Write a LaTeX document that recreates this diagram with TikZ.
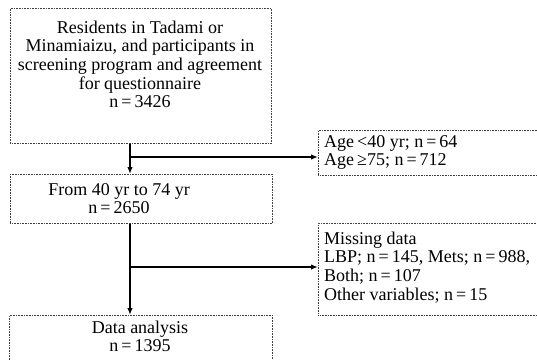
\documentclass[tikz,border=0pt]{standalone}
\usepackage{fontspec}
\setmainfont{Liberation Serif}
\usetikzlibrary{arrows.meta}
\begin{document}
\begin{tikzpicture}[x=1pt,y=-1pt,
  box/.style={draw=black!75, densely dotted, line width=0.6pt, inner sep=0pt, anchor=north west},
  txt/.style={anchor=base, inner sep=0pt, font=\fontsize{18}{18.7}\selectfont},
  ltxt/.style={txt, anchor=base west},
  arr/.style={line width=1.4pt, -{Latex[length=7pt,width=5.5pt]}}]
\useasboundingbox (0,0) rectangle (537,359);
\clip (0,0) rectangle (537,359);
% boxes
\node[box, minimum width=261pt, minimum height=135pt] (b1) at (10,8) {};
\node[box, minimum width=262pt, minimum height=49pt] (b2) at (10,174) {};
\node[box, minimum width=263pt, minimum height=70pt] (b3) at (9,315) {};
\node[box, minimum width=230pt, minimum height=45pt] (a1) at (318,130) {};
\node[box, minimum width=230pt, minimum height=92pt] (a2) at (318,223) {};
% texts
\node[txt] (t1) at (140,33) {\begin{tabular}[t]{@{}c@{}}Residents in Tadami or\\ Minamiaizu, and participants in\\ screening program and agreement\\ for questionnaire\\ n\,=\,3426\end{tabular}};
\node[txt] (t2) at (119,195) {\begin{tabular}[t]{@{}c@{}}From 40 yr to 74 yr\\ n\,=\,2650\end{tabular}};
\node[txt] (t3) at (140,333) {\begin{tabular}[t]{@{}c@{}}Data analysis\\ n\,=\,1395\end{tabular}};
\node[ltxt] (t4) at (324,147) {\begin{tabular}[t]{@{}l@{}}Age\,<40 yr; n\,=\,64\\ Age\,≥75; n\,=\,712\end{tabular}};
\node[ltxt] (t5) at (324,244) {\begin{tabular}[t]{@{}l@{}}Missing data\\ LBP; n\,=\,145, Mets; n\,=\,988,\\ Both; n\,=\,107\\ Other variables; n\,=\,15\end{tabular}};
% connectors
\coordinate (j1) at (130,157);
\coordinate (j2) at (130,267);
\draw[arr] (b1.south -| j1) -- (b2.north -| j1);
\draw[arr] (j1) -- (a1.west |- j1);
\draw[arr] (b2.south -| j2) -- (b3.north -| j2);
\draw[arr] (j2) -- (a2.west |- j2);
\end{tikzpicture}
\end{document}
